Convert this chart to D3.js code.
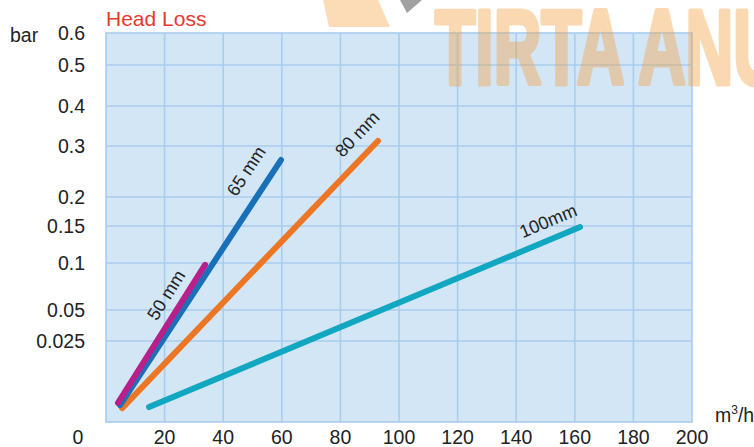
<!DOCTYPE html>
<html>
<head>
<meta charset="utf-8">
<script src="https://cdn.jsdelivr.net/npm/d3@7"></script>
<style>
  body { margin: 0; background: #fff; }
  text { font-family: "Liberation Sans", Arial, sans-serif; }
</style>
</head>
<body>
<svg id="vis" width="754" height="447"></svg>
<script>
// chart data
const xTicks = [20, 40, 60, 80, 100, 120, 140, 160, 180, 200]
const yTicks = [0.025, 0.05, 0.1, 0.15, 0.2, 0.3, 0.4, 0.5, 0.6]
const yTickLabels = ["0.025", "0.05", "0.1", "0.15", "0.2", "0.3", "0.4", "0.5", "0.6"]

const seriesNames = ["100mm", "80 mm", "65 mm", "50 mm"]
const seriesColors = ["#12a7c1", "#ec7623", "#1870b9", "#b91f8b"]
// start / end point of each line: [flow m3/h, loss bar]
const line100 = [[14.7, 0.0046], [161.8, 0.1486]]
const line80 = [[5.5, 0.0043], [92.8, 0.3125]]
const line65 = [[4.8, 0.0052], [59.7, 0.2725]]
const line50 = [[4.1, 0.0059], [33.8, 0.098]]
// label centres in data units
const labelPos = [[150.9, 0.159], [85.7, 0.33], [47.8, 0.251], [20.5, 0.066]]

const svg = d3.select("#vis")

// plot box
const box = { left: 106, right: 692, top: 33, bottom: 422 }

const x = d3.scaleLinear().domain([0, 200]).range([box.left, box.right])
// the y axis is not uniform in the original, so use a piecewise scale
const y = d3.scaleLinear()
  .domain([0, 0.025, 0.05, 0.1, 0.15, 0.2, 0.3, 0.4, 0.5, 0.6])
  .range([box.bottom, 341, 310, 263, 226, 197, 146, 106, 65, box.top])

const grid = "#a8cdee"
const fs = 19.5

svg.append("rect")
  .attr("x", box.left).attr("y", box.top)
  .attr("width", box.right - box.left).attr("height", box.bottom - box.top)
  .attr("fill", "#d3e6f5")

// grid lines
svg.append("g").selectAll("line")
  .data(xTicks.slice(0, -1))
  .join("line")
  .attr("x1", d => x(d)).attr("x2", d => x(d))
  .attr("y1", box.top).attr("y2", box.bottom)
  .attr("stroke", grid).attr("stroke-width", 1.6)

svg.append("g").selectAll("line")
  .data(yTicks.slice(0, -1))
  .join("line")
  .attr("x1", box.left).attr("x2", box.right)
  .attr("y1", d => y(d)).attr("y2", d => y(d))
  .attr("stroke", grid).attr("stroke-width", 1.6)

svg.append("rect")
  .attr("x", box.left).attr("y", box.top)
  .attr("width", box.right - box.left).attr("height", box.bottom - box.top)
  .attr("fill", "none").attr("stroke", grid).attr("stroke-width", 1.6)

// axis labels
svg.append("g").selectAll("text")
  .data(yTicks)
  .join("text")
  .attr("x", 85)
  .attr("y", d => y(d))
  .attr("dy", "0.36em")
  .attr("text-anchor", "end")
  .attr("font-size", fs)
  .attr("fill", "#222")
  .text((d, i) => yTickLabels[i])

svg.append("g").selectAll("text")
  .data(xTicks)
  .join("text")
  .attr("x", d => x(d))
  .attr("y", 444)
  .attr("text-anchor", "middle")
  .attr("font-size", fs)
  .attr("fill", "#222")
  .text(d => d)

svg.append("text").attr("x", 78).attr("y", 444).attr("text-anchor", "middle")
  .attr("font-size", fs).attr("fill", "#222").text("0")
svg.append("text").attr("x", 10).attr("y", 42)
  .attr("font-size", fs).attr("fill", "#222").text("bar")

const unit = svg.append("text").attr("x", 715).attr("y", 422)
  .attr("font-size", fs).attr("fill", "#222")
unit.append("tspan").text("m")
unit.append("tspan").attr("font-size", 12).attr("dy", -8).text("3")
unit.append("tspan").attr("dy", 8).text("/h")

svg.append("text").attr("x", 106).attr("y", 26)
  .attr("font-size", 21).attr("fill", "#e8392e").text("Head Loss")

// lines
const lines = [line100, line80, line65, line50]
const lineGen = d3.line().x(d => x(d[0])).y(d => y(d[1]))

svg.append("g").selectAll("path")
  .data(lines)
  .join("path")
  .attr("d", lineGen)
  .attr("fill", "none")
  .attr("stroke", (d, i) => seriesColors[i])
  .attr("stroke-width", 6)
  .attr("stroke-linecap", "round")

// line labels, rotated to the slope of their line
svg.append("g").selectAll("text")
  .data(labelPos)
  .join("text")
  .attr("transform", (d, i) => {
    const l = lines[i]
    const a = Math.atan2(y(l[1][1]) - y(l[0][1]), x(l[1][0]) - x(l[0][0])) * 180 / Math.PI
    return `translate(${x(d[0])},${y(d[1])}) rotate(${a})`
  })
  .attr("dy", "0.35em")
  .attr("text-anchor", "middle")
  .attr("font-family", "'Open Sans', sans-serif")
  .attr("font-size", 18)
  .attr("fill", "#222")
  .text((d, i) => seriesNames[i])

// faint logo watermark at the top
const mark = svg.append("g")
mark.append("polygon")
  .attr("points", "323,0 378,0 390,27 329,27")
  .attr("fill", "#fbdcb6")
mark.append("polygon")
  .attr("points", "400,0 422,0 407,13")
  .attr("fill", "#a0a0a0")
mark.append("g").attr("opacity", 0.4)
  .append("text")
  .attr("x", 435).attr("y", 84)
  .attr("font-family", "'Liberation Sans', Arial, sans-serif")
  .attr("font-weight", "bold")
  .attr("font-size", 106)
  .attr("textLength", 346)
  .attr("lengthAdjust", "spacingAndGlyphs")
  .attr("fill", "#f5a040")
  .attr("stroke", "#f5a040")
  .attr("stroke-width", 5)
  .attr("stroke-linejoin", "round")
  .text("TIRTA ANU")
</script>
</body>
</html>
